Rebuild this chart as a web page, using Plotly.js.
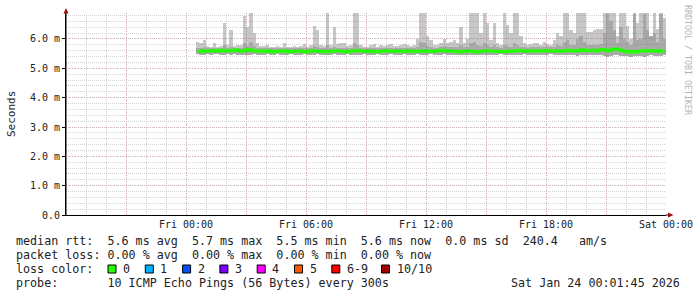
<!DOCTYPE html>
<html>
<head>
<meta charset="utf-8">
<script src="https://cdn.plot.ly/plotly-3.0.1.min.js"></script>
<style>html,body{margin:0;padding:0;background:#fff;}#chart{width:697px;height:297px;}</style>
</head>
<body>
<div id="chart"></div>
<script>
// ---- data (ms), 10-minute samples starting Fri 00:30 ----
const startHour = 0.5;          // hours after Fri 00:00
const stepHours = 1 / 6;        // 10 minutes

const maxRtt = [
 5.90,5.86,5.97,5.75,5.72,5.86,5.72,5.75,6.55,5.80,
 6.30,5.75,5.80,5.80,6.80,6.40,7.00,6.20,5.85,5.75,
 5.75,5.80,5.72,5.72,5.75,5.72,5.85,5.72,5.72,5.75,
 5.72,5.75,5.82,5.72,5.78,6.45,6.30,5.80,5.75,7.00,
 5.80,6.40,5.82,5.86,5.86,5.75,5.80,7.00,7.00,5.80,
 5.72,5.72,5.80,5.82,5.72,5.78,5.75,5.80,5.82,5.75,
 5.75,5.78,5.82,5.80,5.75,5.78,6.00,7.00,7.00,6.10,
 5.95,5.80,5.80,5.85,6.00,5.85,5.90,5.95,5.86,6.40,
 5.85,6.00,7.00,7.00,7.00,6.20,7.00,6.55,5.97,6.55,
 5.85,5.80,7.00,6.47,6.20,7.00,7.00,6.10,5.86,5.80,
 5.82,5.85,5.86,5.80,5.90,5.82,5.80,5.95,6.20,6.10,
 7.00,7.00,6.30,6.20,7.00,7.00,7.00,6.25,6.25,6.30,
 6.35,6.35,7.00,7.00,7.00,7.00,6.10,7.00,7.00,6.45,
 6.00,7.00,6.55,7.00,7.00,7.00,6.10,7.00,6.35,7.00,
 6.70
];

const midRtt = [
 5.70,5.70,5.72,5.68,5.68,5.70,5.68,5.68,5.80,5.70,
 5.72,5.68,5.70,5.70,5.85,5.75,5.90,5.75,5.70,5.68,
 5.68,5.70,5.68,5.68,5.68,5.68,5.70,5.68,5.68,5.68,
 5.68,5.68,5.70,5.68,5.70,5.75,5.72,5.70,5.68,5.80,
 5.70,5.72,5.70,5.70,5.70,5.68,5.70,5.85,5.80,5.70,
 5.68,5.68,5.70,5.70,5.68,5.70,5.68,5.70,5.70,5.68,
 5.68,5.70,5.70,5.70,5.68,5.70,5.72,5.90,5.85,5.75,
 5.72,5.70,5.70,5.72,5.75,5.72,5.72,5.74,5.72,5.78,
 5.72,5.74,5.85,5.90,5.80,5.75,5.85,5.78,5.72,5.78,
 5.72,5.70,5.80,5.75,5.72,5.85,5.80,5.74,5.72,5.70,
 5.72,5.72,5.74,5.72,5.74,5.72,5.72,5.74,5.78,5.76,
 5.90,5.95,5.80,5.78,6.00,6.10,5.90,5.80,5.78,5.80,
 5.80,5.82,6.20,6.85,6.60,6.30,5.85,6.40,6.00,5.90,
 5.80,6.85,5.95,6.00,6.85,6.30,6.10,6.20,5.90,6.85,
 6.00
];

const minRtt = [
 5.48,5.47,5.46,5.48,5.47,5.49,5.48,5.46,5.47,5.48,
 5.47,5.48,5.46,5.47,5.46,5.45,5.47,5.48,5.47,5.46,
 5.47,5.48,5.46,5.47,5.48,5.47,5.46,5.47,5.48,5.47,
 5.46,5.47,5.48,5.47,5.46,5.47,5.48,5.46,5.47,5.46,
 5.47,5.48,5.47,5.46,5.47,5.48,5.47,5.46,5.45,5.47,
 5.48,5.47,5.46,5.47,5.48,5.47,5.46,5.47,5.48,5.47,
 5.46,5.47,5.48,5.47,5.46,5.47,5.48,5.45,5.46,5.47,
 5.48,5.47,5.46,5.47,5.48,5.47,5.46,5.47,5.46,5.47,
 5.46,5.47,5.45,5.46,5.47,5.46,5.45,5.46,5.47,5.46,
 5.47,5.48,5.45,5.46,5.47,5.45,5.46,5.47,5.48,5.47,
 5.46,5.47,5.46,5.47,5.46,5.47,5.48,5.46,5.45,5.46,
 5.44,5.45,5.46,5.47,5.43,5.44,5.45,5.46,5.45,5.46,
 5.45,5.44,5.42,5.40,5.42,5.44,5.45,5.41,5.43,5.42,
 5.40,5.41,5.43,5.42,5.40,5.42,5.44,5.41,5.43,5.42,
 5.44
];

const medianRtt = [
 5.58,5.60,5.57,5.59,5.61,5.60,5.58,5.62,5.60,5.59,
 5.61,5.63,5.60,5.58,5.62,5.64,5.61,5.59,5.60,5.57,
 5.58,5.60,5.56,5.57,5.59,5.58,5.60,5.56,5.57,5.58,
 5.59,5.57,5.56,5.58,5.60,5.59,5.57,5.58,5.56,5.57,
 5.58,5.60,5.59,5.57,5.56,5.58,5.59,5.61,5.60,5.58,
 5.57,5.59,5.58,5.56,5.57,5.58,5.60,5.59,5.57,5.58,
 5.59,5.57,5.58,5.60,5.58,5.57,5.59,5.58,5.60,5.58,
 5.57,5.58,5.60,5.62,5.60,5.58,5.59,5.57,5.56,5.58,
 5.57,5.59,5.58,5.56,5.57,5.58,5.60,5.59,5.58,5.57,
 5.58,5.56,5.57,5.59,5.58,5.60,5.61,5.59,5.58,5.60,
 5.59,5.58,5.60,5.59,5.61,5.60,5.58,5.59,5.60,5.58,
 5.60,5.62,5.60,5.59,5.61,5.63,5.60,5.61,5.62,5.60,
 5.62,5.64,5.62,5.60,5.65,5.66,5.63,5.60,5.58,5.55,
 5.57,5.56,5.58,5.60,5.59,5.61,5.60,5.58,5.60,5.59,
 5.60
];

// axis ticks
const xTickVals = [-6,-3,0,3,6,9,12,15,18,21,24];
const xTickText = ['','','Fri 00:00','','Fri 06:00','','Fri 12:00','','Fri 18:00','','Sat 00:00'];
const yTickVals = [0,1,2,3,4,5,6];
const yTickText = ['0.0','1.0 m','2.0 m','3.0 m','4.0 m','5.0 m','6.0 m'];

// legend / summary texts
const lineMedian = 'median rtt:  5.6 ms avg  5.7 ms max  5.5 ms min  5.6 ms now  0.0 ms sd  240.4   am/s';
const lineLoss   = 'packet loss: 0.00 % avg  0.00 % max  0.00 % min  0.00 % now';
const lineColor  = 'loss color:';
const lineProbe  = 'probe:       10 ICMP Echo Pings (56 Bytes) every 300s';
const stampText  = 'Sat Jan 24 00:01:45 2026';
const lossLabels = ['0','1','2','3','4','5','6-9','10/10'];
const lossColors = ['#22ff00','#00b4ff','#0050ff','#7d00ff','#ff00ff','#ff5500','#ff0000','#a10000'];

// ---- build ----
const times = maxRtt.map((_, i) => startHour + i * stepHours + stepHours / 2);
const MONO = 'DejaVu Sans Mono, monospace';
const L = 66, T = 13, PW = 600, PH = 202;
const X = px => (px - L) / PW;
const Y = py => (T + PH - py) / PH;
const nb = s => s.replace(/ /g, '\u00a0');

const traces = [
  {type:'bar', x:times, base:minRtt, y:maxRtt.map((v,i)=>v-minRtt[i]), width:stepHours,
   marker:{color:'rgba(130,130,130,0.45)', line:{width:0}}, hoverinfo:'skip'},
  {type:'bar', x:times, base:minRtt, y:midRtt.map((v,i)=>v-minRtt[i]), width:stepHours,
   marker:{color:'rgba(100,100,100,0.3)', line:{width:0}}, hoverinfo:'skip'},
  {type:'scatter', mode:'lines', x:times, y:medianRtt, line:{color:'#22ff00', width:3, shape:'hv'}, hoverinfo:'skip'}
];

const annotations = [];
function txt(s, px, py, opt) {
  annotations.push(Object.assign({
    xref:'paper', yref:'paper', x:X(px), y:Y(py), xanchor:'left', yanchor:'middle',
    text:nb(s), showarrow:false, borderpad:0,
    font:{family:MONO, size:11.7, color:'#222'}
  }, opt || {}));
}
txt(lineMedian, 15, 241);
txt(lineLoss, 15, 255);
txt(lineColor, 15, 269);
txt(lineProbe, 15, 283);
txt(stampText, 681, 283, {xanchor:'right'});

const shapes = [];
lossLabels.forEach((lab, i) => {
  let bx = 108 + i * 37.3;
  if (i === 7) bx = 381.5;
  shapes.push({type:'rect', xref:'paper', yref:'paper', x0:X(bx), x1:X(bx+8), y0:Y(273), y1:Y(265),
    fillcolor:lossColors[i], line:{color:'#000', width:1}});
  txt(lab, bx + 14, 269);
});

// y title and watermark
annotations.push({xref:'paper', yref:'paper', x:X(11), y:Y(114), xanchor:'center', yanchor:'middle',
  text:'Seconds', textangle:-90, showarrow:false, font:{family:MONO, size:11, color:'#222'}});
annotations.push({xref:'paper', yref:'paper', x:X(688), y:Y(60), xanchor:'center', yanchor:'middle',
  text:nb('RRDTOOL / TOBI OETIKER'), textangle:90, showarrow:false, font:{family:MONO, size:8.3, color:'#b4b4b4'}});

// axis extensions and arrows
shapes.push({type:'line', xref:'paper', yref:'paper', x0:X(666), x1:X(669), y0:Y(215), y1:Y(215), line:{color:'#000', width:1}});
shapes.push({type:'line', xref:'paper', yref:'paper', x0:X(66), x1:X(66), y0:Y(215), y1:Y(11), line:{color:'#000', width:1}});
shapes.push({type:'path', xref:'paper', yref:'paper',
  path:`M ${X(668)},${Y(212.5)} L ${X(673.5)},${Y(215)} L ${X(668)},${Y(217.5)} Z`, fillcolor:'#a01010', line:{width:0}});
shapes.push({type:'path', xref:'paper', yref:'paper',
  path:`M ${X(63.5)},${Y(13.5)} L ${X(66)},${Y(8)} L ${X(68.5)},${Y(13.5)} Z`, fillcolor:'#a01010', line:{width:0}});

const layout = {
  width:697, height:297,
  margin:{l:L, r:697-L-PW, t:T, b:297-T-PH, pad:0},
  paper_bgcolor:'#ffffff', plot_bgcolor:'#ffffff',
  showlegend:false, barmode:'overlay', bargap:0,
  xaxis:{range:[-6,24], tickmode:'array', tickvals:xTickVals, ticktext:xTickText,
    showgrid:true, gridcolor:'rgba(225,130,130,0.6)', griddash:'1px,2px', gridwidth:1,
    minor:{tick0:0, dtick:1, showgrid:true, gridcolor:'rgba(170,170,170,0.5)', griddash:'1px,1px', gridwidth:1},
    showline:true, linecolor:'#000', linewidth:1, zeroline:false, ticks:'', ticklen:0,
    tickfont:{family:MONO, size:10, color:'#222'}, fixedrange:true, automargin:false},
  yaxis:{range:[0,6.886], tickmode:'array', tickvals:yTickVals, ticktext:yTickText,
    showgrid:true, gridcolor:'rgba(225,130,130,0.6)', griddash:'1px,2px', gridwidth:1,
    minor:{tick0:0, dtick:0.2, showgrid:true, gridcolor:'rgba(170,170,170,0.5)', griddash:'1px,1px', gridwidth:1},
    showline:true, linecolor:'#000', linewidth:1, zeroline:false, ticks:'outside', ticklen:3, tickcolor:'#000',
    tickfont:{family:MONO, size:10, color:'#222'}, fixedrange:true, automargin:false},
  annotations, shapes
};

Plotly.newPlot('chart', traces, layout, {staticPlot:true, displayModeBar:false});
</script>
</body>
</html>
